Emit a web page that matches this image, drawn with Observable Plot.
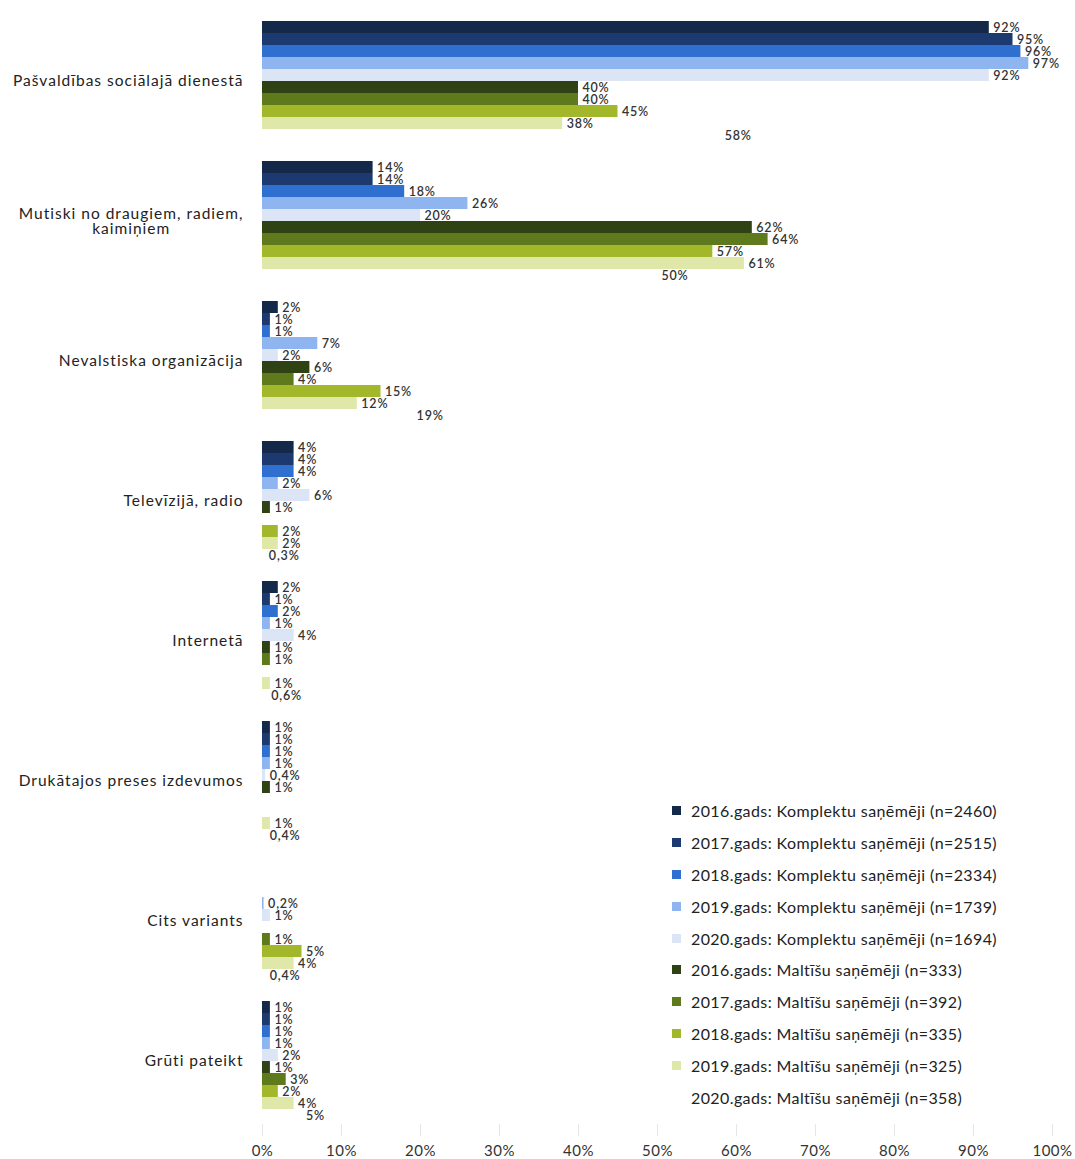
<!DOCTYPE html>
<html><head><meta charset="utf-8">
<script src="https://cdn.jsdelivr.net/npm/d3@7"></script>
<script src="https://cdn.jsdelivr.net/npm/@observablehq/plot@0.6"></script>
<style>
body{margin:0;background:#fff;font-family:Lato,"Open Sans",sans-serif;}
#wrap{position:relative;width:1075px;height:1159px;}
#legend{position:absolute;left:672px;top:795px;}
.row{height:31.8px;display:flex;align-items:center;font-size:16px;letter-spacing:0.4px;color:#222;white-space:nowrap;}
.sw{width:9px;height:9px;margin-right:10px;flex:none;}
g[aria-label="fy-axis tick label"]{letter-spacing:1px;}
g[aria-label="x-axis tick label"]{letter-spacing:0.5px;}
g[aria-label="text"]{letter-spacing:0.8px;}
</style></head><body><div id="wrap"><div id="chart"></div><div id="legend"></div></div>
<script>
const categories = [
  "Pašvaldības sociālajā dienestā",
  "Mutiski no draugiem, radiem,\nkaimiņiem",
  "Nevalstiska organizācija",
  "Televīzijā, radio",
  "Internetā",
  "Drukātajos preses izdevumos",
  "Cits variants",
  "Grūti pateikt"
];
const seriesNames = [
  "2016.gads: Komplektu saņēmēji (n=2460)",
  "2017.gads: Komplektu saņēmēji (n=2515)",
  "2018.gads: Komplektu saņēmēji (n=2334)",
  "2019.gads: Komplektu saņēmēji (n=1739)",
  "2020.gads: Komplektu saņēmēji (n=1694)",
  "2016.gads: Maltīšu saņēmēji (n=333)",
  "2017.gads: Maltīšu saņēmēji (n=392)",
  "2018.gads: Maltīšu saņēmēji (n=335)",
  "2019.gads: Maltīšu saņēmēji (n=325)",
  "2020.gads: Maltīšu saņēmēji (n=358)"
];
const seriesColors = ["#14294a","#1c3a70","#2f6fd0","#8fb5f0","#dbe5f6","#2e4214","#5e7a1c","#a2b82a","#dfe8a8","#ffffff"];
const komplekti2016 = [92, 14, 2, 4, 2, 1, null, 1];
const komplekti2017 = [95, 14, 1, 4, 1, 1, null, 1];
const komplekti2018 = [96, 18, 1, 4, 2, 1, null, 1];
const komplekti2019 = [97, 26, 7, 2, 1, 1, 0.2, 1];
const komplekti2020 = [92, 20, 2, 6, 4, 0.4, 1, 2];
const maltites2016 = [40, 62, 6, 1, 1, 1, null, 1];
const maltites2017 = [40, 64, 4, null, 1, null, 1, 3];
const maltites2018 = [45, 57, 15, 2, null, null, 5, 2];
const maltites2019 = [38, 61, 12, 2, 1, 1, 4, 4];
const maltites2020 = [58, 50, 19, 0.3, 0.6, 0.4, 0.4, 5];
const xTicks = [0,10,20,30,40,50,60,70,80,90,100];

const seriesValues = [komplekti2016, komplekti2017, komplekti2018, komplekti2019, komplekti2020,
  maltites2016, maltites2017, maltites2018, maltites2019, maltites2020];
const rows = [];
seriesValues.forEach((vals, si) => vals.forEach((v, ci) => {
  if (v != null) rows.push({category: categories[ci], series: seriesNames[si], value: v});
}));
const fmt = v => (v < 1 ? String(v).replace(".", ",") : d3.format("d")(v)) + "%";

const chart = Plot.plot({
  width: 1075, height: 1159,
  marginLeft: 262, marginRight: 23, marginTop: 18, marginBottom: 35,
  style: {fontFamily: "Lato, 'Open Sans', sans-serif", fontSize: "14px", background: "#fff"},
  x: {domain: [0, 100]},
  y: {domain: seriesNames, padding: 0, axis: null},
  fy: {domain: categories, paddingInner: 0.1, paddingOuter: 0},
  color: {domain: seriesNames, range: seriesColors},
  marks: [
    Plot.barX(rows, {x: "value", y: "series", fy: "category", fill: "series"}),
    Plot.text(rows, {x: "value", y: "series", fy: "category", text: d => fmt(d.value),
      textAnchor: "start", dx: 4, fontSize: 12.5, fontWeight: 600, fill: "#333"}),
    Plot.axisFy({anchor: "left", label: null, tickSize: 0, tickPadding: 19, fontSize: 15.5, fill: "#222"}),
    Plot.axisX({ticks: xTicks, tickSize: 12, stroke: "#e6e6e6", text: null, label: null}),
    Plot.axisX({ticks: xTicks, tickSize: 0, tickPadding: 21, tickFormat: d => d + "%", label: null, fontSize: 15, fill: "#333"})
  ]
});
document.getElementById("chart").appendChild(chart);

// center the lines of multi-line category labels (right-aligned block)
chart.querySelectorAll('g[aria-label="fy-axis tick label"] text').forEach(t => {
  if (t.querySelectorAll("tspan").length > 1) {
    const w = t.getBBox().width;
    t.setAttribute("text-anchor", "middle");
    const tr = t.getAttribute("transform") || "";
    t.setAttribute("transform", tr + ` translate(${-w / 2},0)`);
  }
});

const legend = document.getElementById("legend");
seriesNames.forEach((name, i) => {
  const row = document.createElement("div");
  row.className = "row";
  const sw = document.createElement("span");
  sw.className = "sw";
  sw.style.background = seriesColors[i];
  const t = document.createElement("span");
  t.textContent = name;
  row.appendChild(sw); row.appendChild(t);
  legend.appendChild(row);
});
</script></body></html>
